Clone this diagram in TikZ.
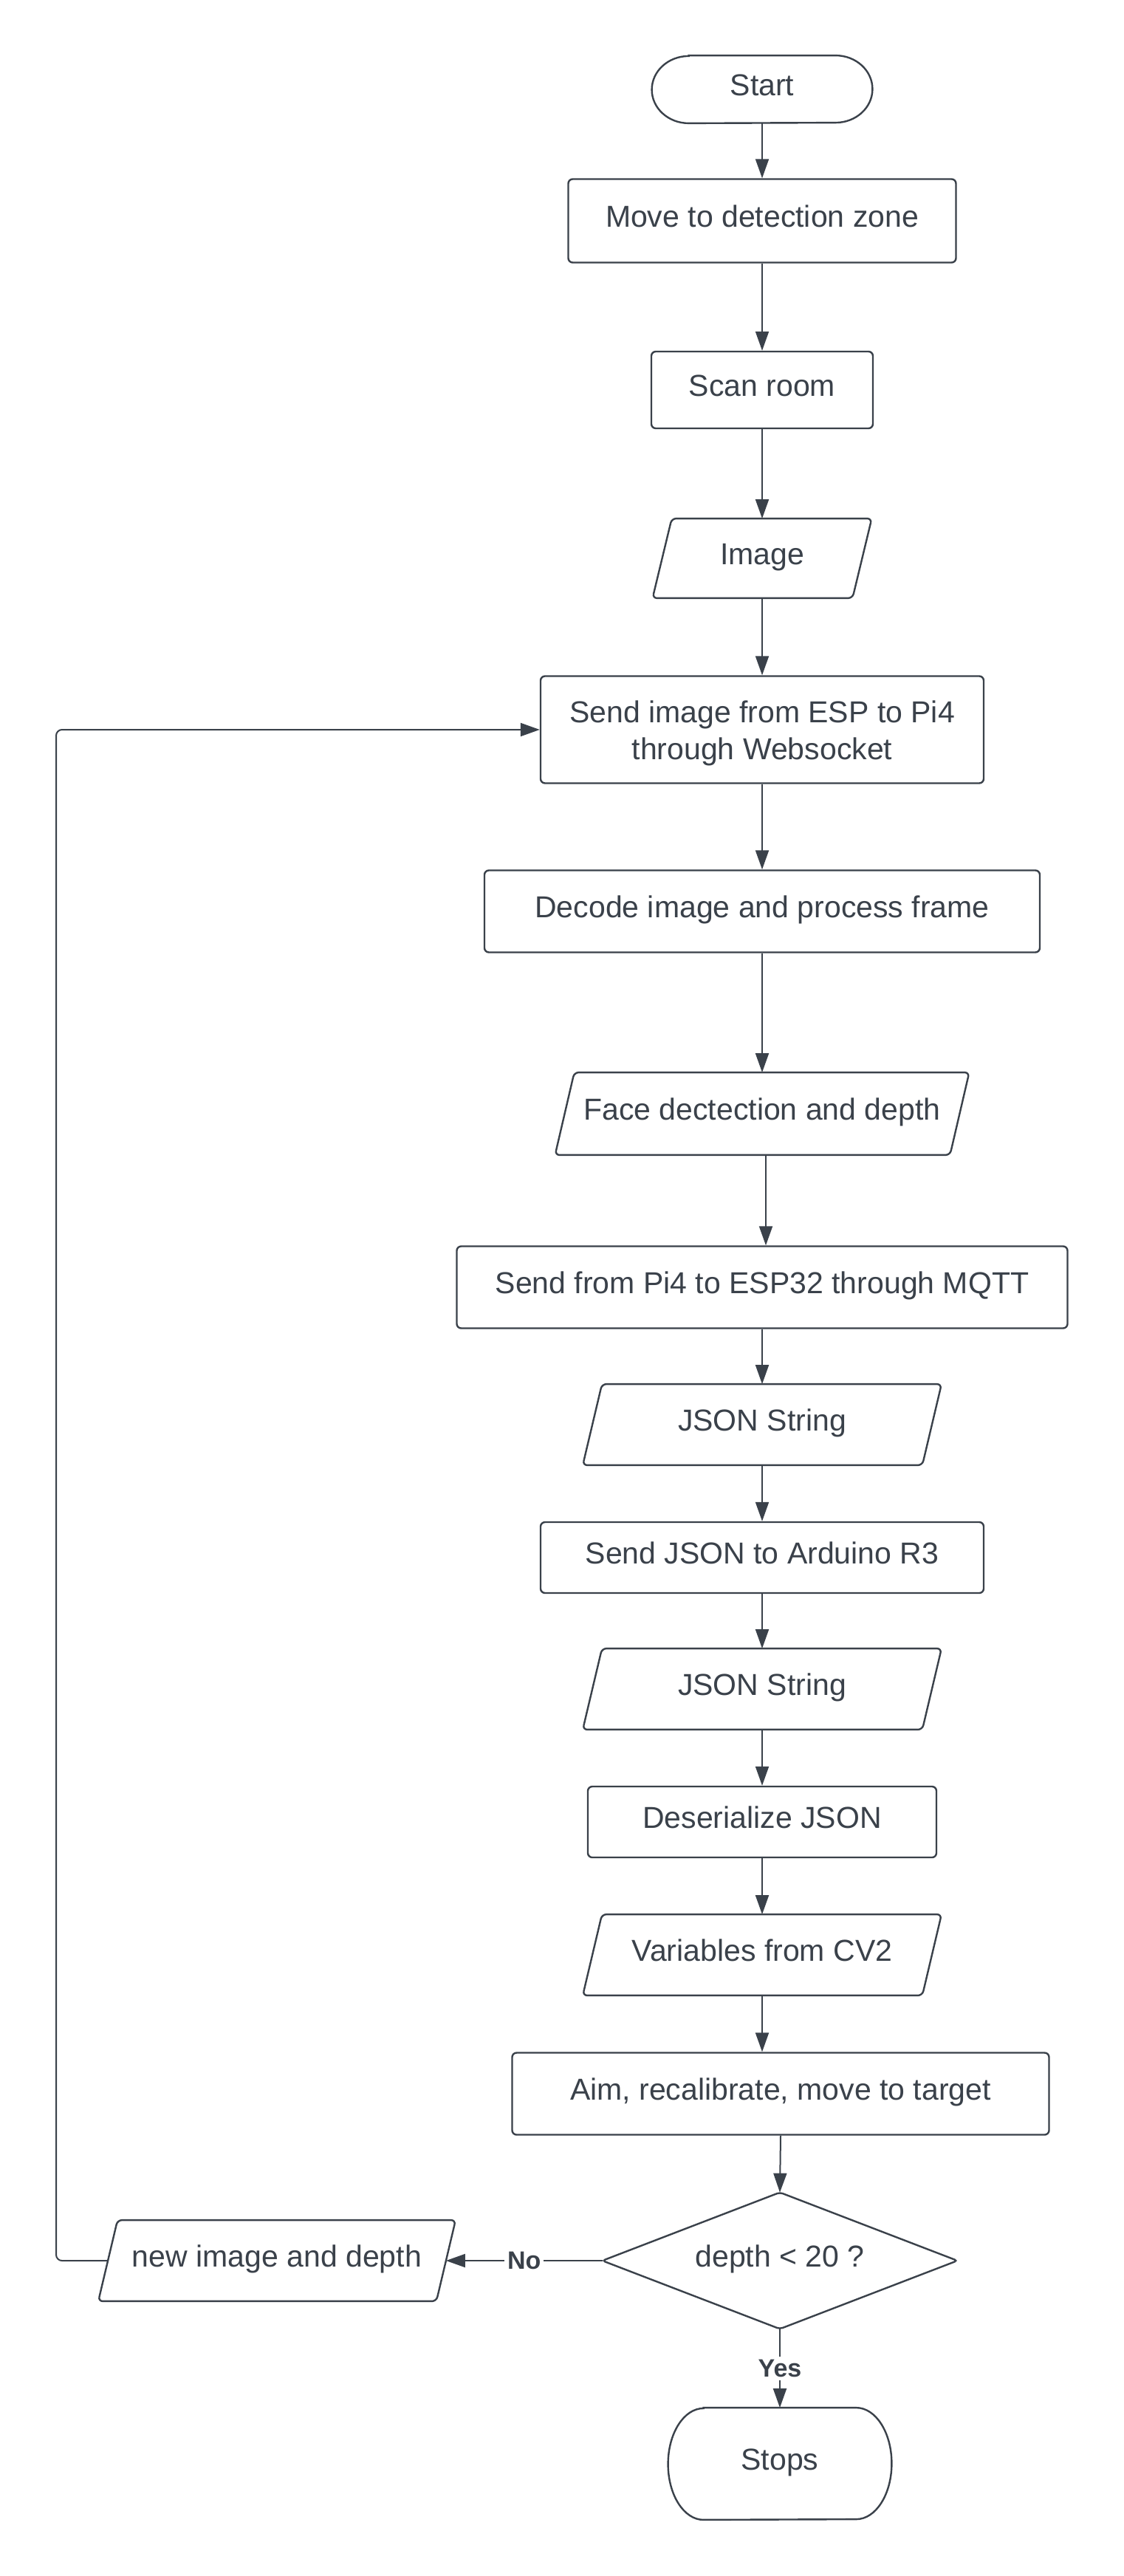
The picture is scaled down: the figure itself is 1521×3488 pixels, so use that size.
\documentclass[tikz,border=0pt]{standalone}
\usepackage{fontspec}
\setmainfont{Liberation Sans}
\usetikzlibrary{arrows.meta,calc}
\definecolor{ink}{RGB}{58,65,74}
\newcommand\drawpara[1]{\draw[bd,rounded corners=3pt] ($(#1.north west)+(26,0)$) -- (#1.north east) -- ($(#1.south east)+(-26,0)$) -- (#1.south west) -- cycle;}
\newcommand\drawterm[3]{\draw[bd] ($(#1.north west)+(#2,0pt)$) -- ($(#1.north east)+(-#2,0pt)$) arc[start angle=90,end angle=-90,x radius=#2,y radius=#3] -- ($(#1.south west)+(#2,0pt)$) arc[start angle=270,end angle=90,x radius=#2,y radius=#3] -- cycle;}
\begin{document}
\begin{tikzpicture}[x=0.5pt,y=-0.5pt,
  every node/.style={font=\fontsize{20.5}{25}\selectfont, text=ink, align=center, inner sep=0pt},
  bd/.style={draw=ink, line width=1.2pt},
  shp/.style 2 args={minimum width=#1*0.5pt, minimum height=#2*0.5pt, text height=15.5pt, text depth=6.7pt},
  box/.style 2 args={bd, rounded corners=3pt, shp={#1}{#2}},
  conn/.style={draw=ink, line width=1pt, -{Triangle[length=13pt,width=9pt]}},
  lbl/.style={fill=white, inner sep=2pt, font=\fontsize{17}{20}\selectfont\bfseries}
]
\useasboundingbox[fill=white] (0,0) rectangle (1521,3488);

\node[shp={298}{91}] (start) at (1032,121) {Start};
\drawterm{start}{25pt}{22.75pt}
\node[box={525}{113}] (move) at (1032,299) {Move to detection zone};
\node[box={300}{104}] (scan) at (1032,528) {Scan room};
\node[shp={296}{107}] (image) at (1032,756) {Image};
\drawpara{image}
\node[box={600}{145}, text height=44.9pt, text depth=4.4pt] (send) at (1032,988) {Send image from ESP to Pi4\\through Websocket};
\node[box={752}{111}] (decode) at (1032,1234) {Decode image and process frame};
\node[shp={560}{111}] (face) at (1032,1508) {Face dectection and depth};
\drawpara{face}
\node[box={827}{111}] (pi4) at (1032,1743) {Send from Pi4 to ESP32 through MQTT};
\node[shp={485}{109}] (json1) at (1032,1929) {JSON String};
\drawpara{json1}
\node[box={600}{96}] (ard) at (1032,2109) {Send JSON to Arduino R3};
\node[shp={485}{109}] (json2) at (1032,2287) {JSON String};
\drawpara{json2}
\node[box={472}{96}] (deser) at (1032,2467) {Deserialize JSON};
\node[shp={485}{109}] (vars) at (1032,2647) {Variables from CV2};
\drawpara{vars}
\node[box={727}{111}] (aim) at (1057,2835) {Aim, recalibrate, move to target};
\node[shp={480}{184}] (dia) at (1056,3061) {depth {\textless} 20 ?};
\draw[bd,rounded corners=2pt] (dia.north) -- (dia.east) -- (dia.south) -- (dia.west) -- cycle;
\node[shp={483}{109}] (newimg) at (375,3061) {new image and depth};
\drawpara{newimg}
\node[shp={302}{151}] (stops) at (1056,3336) {Stops};
\drawterm{stops}{24pt}{37.75pt}

\coordinate (lp) at (76,0);

\draw[conn] (start.south) -- (move.north);
\draw[conn] (move.south) -- (scan.north);
\draw[conn] (scan.south) -- (image.north);
\draw[conn] (image.south) -- (send.north);
\draw[conn] (send.south) -- (decode.north);
\draw[conn] (decode.south) -- (face.north);
\draw[conn] ([xshift=2.5pt]face.south) -- ([xshift=2.5pt]pi4.north);
\draw[conn] (pi4.south) -- (json1.north);
\draw[conn] (json1.south) -- (ard.north);
\draw[conn] (ard.south) -- (json2.north);
\draw[conn] (json2.south) -- (deser.north);
\draw[conn] (deser.south) -- (vars.north);
\draw[conn] (vars.south) -- (vars.south |- aim.north);
\draw[conn] (aim.south) -- (dia.north);
\draw[conn] (dia.west) -- node[lbl] {No} ($(newimg.east)+(-13,0)$);
\draw[conn] (dia.south) -- node[lbl] {Yes} (stops.north);
\draw[conn, rounded corners=4pt] ($(newimg.west)+(13,0)$) -- (lp |- newimg.west) -- (lp |- send.west) -- (send.west);
\end{tikzpicture}
\end{document}
